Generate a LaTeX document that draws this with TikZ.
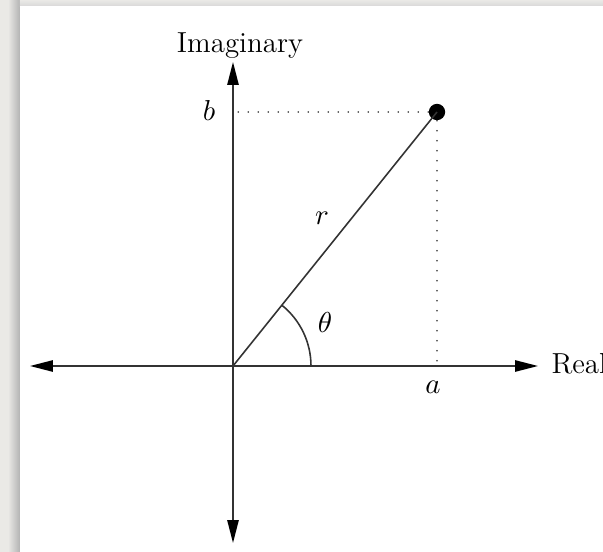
\documentclass[tikz,border=0pt]{standalone}
\usetikzlibrary{arrows.meta}
\definecolor{paper}{RGB}{234,233,230}
\begin{document}
\begin{tikzpicture}[
  x=0.38pt, y=-0.38pt, >={Triangle[length=8.7pt,width=4.3pt,color=black]},
  axis/.style={draw=black!80, line width=0.6pt, <->},
  guide/.style={draw=black!80, line width=0.7pt, line cap=round, dash pattern=on 0pt off 3.8pt},
  dot/.style={circle, fill=black, inner sep=0pt, minimum size=6.2pt},
  lbl/.style={inner sep=0pt, font=\fontsize{11}{13}\selectfont}
]

  % Paper background and white panel
  \fill[paper] (0,0) rectangle (603,552);
  \shade[left color=paper, right color=black!30] (8,0) rectangle (20,552);
  \shade[top color=paper, bottom color=black!15] (20,0) rectangle (603,6);
  \fill[white] (20,6) rectangle (603,552);
  \useasboundingbox (0,0) rectangle (603,552);

  % Axes
  \coordinate (O) at (233,366);
  \coordinate (xl) at (30,366);
  \coordinate (xr) at (538,366);
  \coordinate (yt) at (233,62);
  \coordinate (yb) at (233,543);
  \draw[axis] (xl) -- (xr);
  \draw[axis] (yb) -- (yt);

  % The point a+bi
  \node[dot] (P) at (437,112) {};
  \coordinate (Pa) at (437,363);
  \coordinate (Pb) at (237,112);
  \draw[guide] (P) -- (Pb);
  \draw[guide] (P) -- (Pa);
  \draw[black!80, line width=0.6pt] (O) -- (P.center);

  % Angle
  \draw[black!80, line width=0.6pt] (311,366) arc[start angle=0, end angle=-51.2, radius=78];

  % Labels
  \node[lbl, anchor=base] (imag) at (240,52) {Imaginary};
  \node[lbl, anchor=base west] (real) at (551,373) {Real};
  \node[lbl, anchor=base] (lb) at (209,120) {$b$};
  \node[lbl, anchor=base] (la) at (433,393) {$a$};
  \node[lbl] (lr) at (322,218) {$r$};
  \node[lbl] (lth) at (325,322) {$\theta$};

\end{tikzpicture}
\end{document}
